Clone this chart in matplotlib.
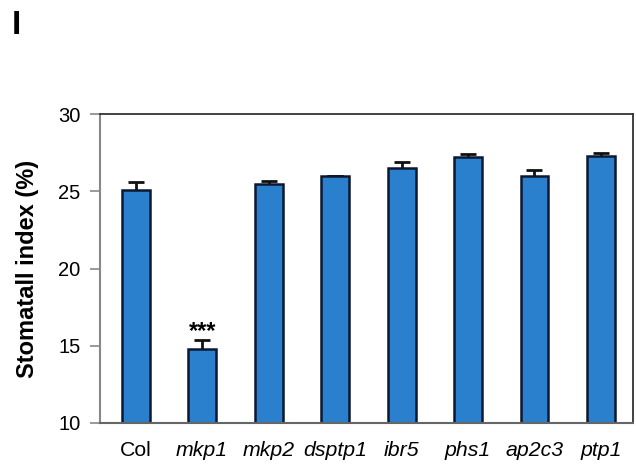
import matplotlib
matplotlib.use("Agg")
import matplotlib.pyplot as plt

categories = ["Col", "mkp1", "mkp2", "dsptp1", "ibr5", "phs1", "ap2c3", "ptp1"]
values = [25.1, 14.8, 25.5, 26.0, 26.5, 27.2, 26.0, 27.3]
errors = [0.5, 0.6, 0.2, 0.0, 0.4, 0.2, 0.4, 0.2]
significance = ["", "***", "", "", "", "", "", ""]
yticks = [10, 15, 20, 25, 30]

plt.rcParams['font.family'] = ['Liberation Sans', 'DejaVu Sans']

fig = plt.figure(figsize=(6.36, 4.68), dpi=100)
ax = fig.add_axes([0.157, 0.0962, 0.838, 0.66])

x = list(range(len(categories)))
ax.errorbar(x, values, yerr=errors, fmt="none", ecolor="#111111", elinewidth=2.0,
            capsize=5.5, capthick=2.0, zorder=1)
ax.bar(x, values, width=0.42, color="#2a80cc", edgecolor="#0b1830", linewidth=1.8,
       zorder=2)
for xi, v, e, s in zip(x, values, errors, significance):
    if s:
        ax.text(xi, v + e - 0.2, s, ha="center", va="bottom", fontsize=17, fontweight="bold")

ax.set_ylim(10, 30)
ax.set_xlim(-0.54, 7.48)
ax.set_yticks(yticks)
ax.set_yticklabels([str(t) for t in yticks], fontsize=14.5)
ax.set_xticks(x)
ax.set_xticklabels(categories, fontsize=15.3)
for i, lab in enumerate(ax.get_xticklabels()):
    if i > 0:
        lab.set_style("italic")
ax.tick_params(axis="x", length=0, pad=13)
ax.tick_params(axis="y", length=7, width=1.2, color="#888888", pad=7)
ax.set_ylabel("Stomatall index (%)", fontsize=17, fontweight="bold", labelpad=14)

ax.spines["left"].set_color("#888888")
ax.spines["left"].set_linewidth(1.5)
ax.spines["bottom"].set_color("#666666")
ax.spines["bottom"].set_linewidth(1.5)
for s in ("top", "right"):
    ax.spines[s].set_color("#333333")
    ax.spines[s].set_linewidth(1.3)

fig.text(0.018, 0.978, "I", fontsize=24, fontweight="bold", va="top", ha="left")

fig.savefig("out.png", dpi=100)
